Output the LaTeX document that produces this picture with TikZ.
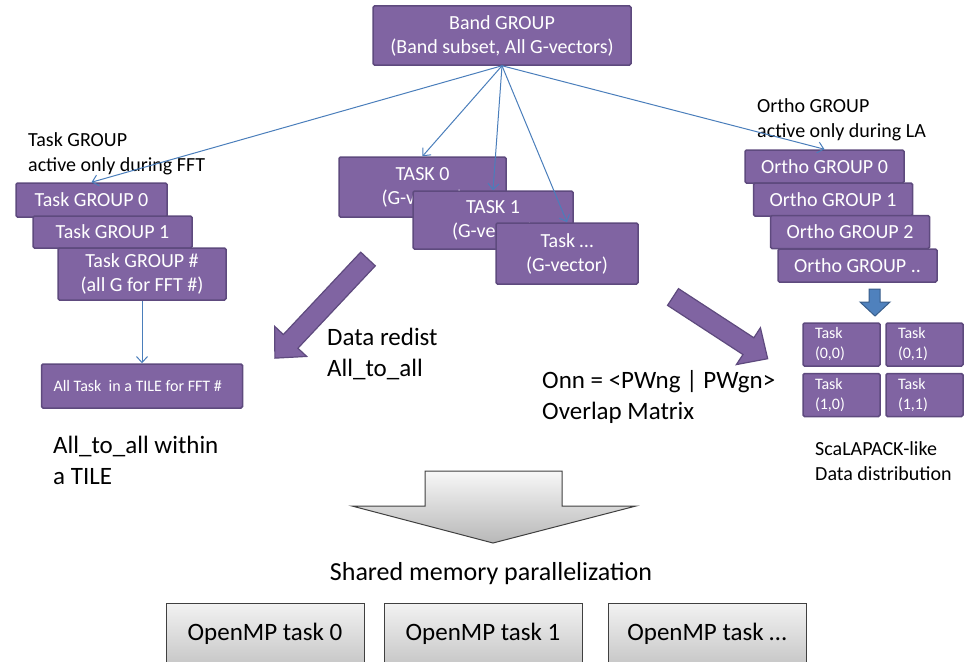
\documentclass[tikz,border=0pt]{standalone}
\usepackage{fontspec}
\setmainfont{Carlito}
\usetikzlibrary{arrows.meta}
\definecolor{groupFill}{RGB}{128,100,162}
\definecolor{groupEdge}{RGB}{94,74,126}
\definecolor{linkBlue}{RGB}{74,126,187}
\definecolor{dropBlue}{RGB}{79,129,189}
\definecolor{dropEdge}{RGB}{56,93,138}

\begin{document}
\begin{tikzpicture}[x=1pt, y=-1pt,
    groupbox/.style={draw=groupEdge, fill=groupFill, line width=1.5pt, rounded corners=1.5pt, text=white, align=center, inner sep=0pt, font=\fontsize{20}{24}\selectfont},
    gridbox/.style={groupbox, minimum width=77pt, minimum height=43pt, inner xsep=12pt, text width=53pt, align=left, font=\fontsize{16}{20}\selectfont},
    ompbox/.style={draw=black!75, line width=1pt, top color=black!5, bottom color=black!22, minimum width=198pt, minimum height=62pt, font=\fontsize{25}{30}\selectfont},
    note/.style={align=left, inner sep=0pt, font=\fontsize{20}{25}\selectfont},
    bignote/.style={align=left, inner sep=0pt, font=\fontsize{25}{31}\selectfont},
    fatarrow/.style={draw=groupEdge, fill=groupFill, line width=1.2pt},
    link/.style={draw=linkBlue, line width=1pt, -{Straight Barb[length=6pt, width=11pt]}}]
    \useasboundingbox (0,0) rectangle (965,661);
    \clip (0,0) rectangle (965,661);

    \node[groupbox, minimum width=258pt, minimum height=59pt] (band) at (502,35.5) {Band GROUP\\(Band subset, All G-vectors)};

    \node[note, anchor=west] (tglabel) at (28,154) {Task GROUP\\active only during FFT};
    \node[groupbox, minimum width=151pt, minimum height=34pt] (tg0) at (91.5,200) {Task GROUP 0};
    \node[groupbox, minimum width=159pt, minimum height=32pt] (tg1) at (112.5,232) {Task GROUP 1};
    \node[groupbox, minimum width=168pt, minimum height=52pt] (tgn) at (142,274) {Task GROUP \#\\(all G for FFT \#)};
    \node[groupbox, minimum width=201pt, minimum height=44pt, inner xsep=12pt, font=\fontsize{16}{20}\selectfont] (tile) at (142,386) {\makebox[177pt][l]{All Task\ \ in a TILE for FFT \#}};
    \node[bignote, anchor=west] (tilenote) at (53,460) {All\_to\_all within\\a TILE};

    \node[groupbox, minimum width=167pt, minimum height=60pt] (t0) at (422.5,187) {TASK 0\\(G-vector)};
    \node[groupbox, minimum width=160pt, minimum height=58pt] (t1) at (493,220) {TASK 1\\(G-vector)};
    \node[groupbox, minimum width=142pt, minimum height=61pt] (tn) at (567,253.5) {Task …\\(G-vector)};

    \node[note, anchor=west] (oglabel) at (757,120) {Ortho GROUP\\active only during LA};
    \foreach \i/\x/\y/\lab in {0/824.5/166.5/0, 1/833/199.5/1, 2/850/232/2, 3/857.5/265.5/..}
        \node[groupbox, minimum width=159pt, minimum height=33pt] (og\i) at (\x,\y) {Ortho GROUP \lab};

    \draw[fill=dropBlue, draw=dropEdge, line width=1pt] (869,289) -- (880,289) -- (880,302) -- (890,302) -- (875,316) -- (860,302) -- (869,302) -- cycle;

    \foreach \r/\c/\x/\y in {0/0/841.5/344.5, 0/1/924.5/344.5, 1/0/841.5/395, 1/1/924.5/395}
        \node[gridbox] (g\r\c) at (\x,\y) {Task\\(\r,\c)};
    \node[note, anchor=west] (scalabel) at (815,461) {ScaLAPACK-like\\Data distribution};

    \foreach \tx/\ty/\ang/\len in {368/259/226.8/136, 673/297/-33.1/113}
        \draw[fatarrow, shift={(\tx,\ty)}, rotate=\ang] (0,-10) -- ({\len-23},-10) -- ({\len-23},-22) -- (\len,0) -- ({\len-23},22) -- ({\len-23},10) -- (0,10) -- cycle;
    \node[bignote, anchor=west] (redist) at (327,354) {Data redist\\All\_to\_all};
    \node[bignote, anchor=west] (overlap) at (542,396.5) {Onn = <PWng | PWgn>\\Overlap Matrix};

    \draw[draw=black!75, line width=1pt, top color=black!3, bottom color=black!28] (425,471) -- (562,471) -- (562,506) -- (636,506) -- (493,543) -- (352,506) -- (425,506) -- cycle;
    \node[bignote, anchor=base, font=\fontsize{26}{31}\selectfont] (shared) at (491,580) {Shared memory parallelization};
    \foreach \i/\x/\lab in {0/265/0, 1/483/1, 2/707/…}
        \node[ompbox] (omp\i) at (\x,634) {OpenMP task \lab};

    \foreach \dst in {tg0, t0, t1, tn, og0}
        \draw[link] (band.south) -- (\dst.north);
    \draw[link] (tgn.south) -- (tile.north);
\end{tikzpicture}
\end{document}
